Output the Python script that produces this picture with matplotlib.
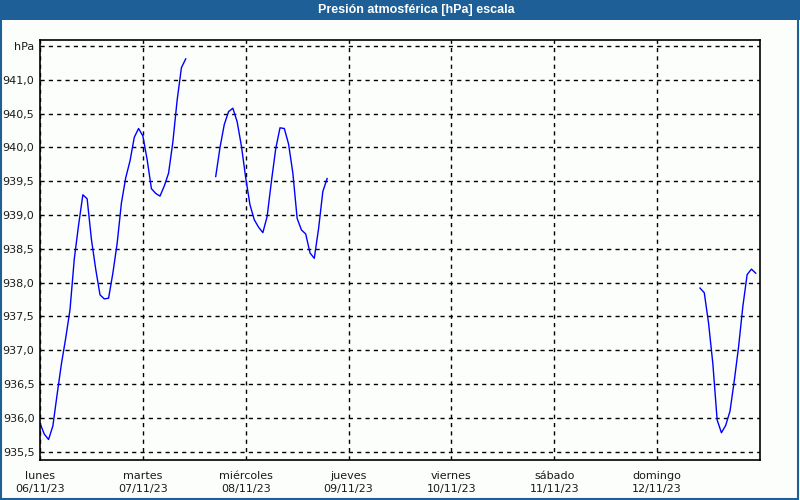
import matplotlib
matplotlib.use("Agg")
import matplotlib.pyplot as plt
from matplotlib.patches import Rectangle
import numpy as np

title = "Presión atmosférica [hPa] escala"
day_names = ["lunes", "martes", "miércoles", "jueves", "viernes", "sábado", "domingo"]
day_dates = ["06/11/23", "07/11/23", "08/11/23", "09/11/23", "10/11/23", "11/11/23", "12/11/23"]

# hourly readings (hours since lunes 00:00)
seg1_start = 0
seg1 = [935.92, 935.76, 935.68, 935.88, 936.35, 936.80, 937.18, 937.60, 938.35, 938.85,
        939.30, 939.24, 938.64, 938.20, 937.82, 937.76, 937.77, 938.14, 938.58, 939.18,
        939.55, 939.80, 940.15, 940.28, 940.17, 939.82, 939.39, 939.32, 939.28, 939.43,
        939.62, 940.08, 940.70, 941.18, 941.31]
seg2_start = 41
seg2 = [939.57, 940.00, 940.34, 940.53, 940.58, 940.38, 940.02, 939.55, 939.15, 938.93,
        938.82, 938.74, 938.98, 939.50, 939.98, 940.29, 940.28, 940.05, 939.62, 938.95,
        938.78, 938.72, 938.44, 938.36, 938.80, 939.35, 939.54]
seg3_start = 154
seg3 = [937.92, 937.85, 937.40, 936.80, 935.97, 935.78, 935.89, 936.10, 936.55, 937.05,
        937.65, 938.12, 938.20, 938.14]

y_ticks = [935.5, 936.0, 936.5, 937.0, 937.5, 938.0, 938.5, 939.0, 939.5, 940.0, 940.5, 941.0, 941.5]

fig = plt.figure(figsize=(8, 5), dpi=100)
fig.patch.set_facecolor("#fcfefc")
plt.rcParams['font.family'] = ['DejaVu Sans']

ax = fig.add_axes([0.05, 0.08, 0.90, 0.84])
ax.set_facecolor("#fcfefc")

for start, seg in [(seg1_start, seg1), (seg2_start, seg2), (seg3_start, seg3)]:
    hrs = np.arange(start, start + len(seg))
    ax.plot(hrs, seg, color="#0000ff", lw=1.0)

ax.set_xlim(0, 168)
ax.set_ylim(935.377, 941.589)

ax.set_yticks(y_ticks)
ax.set_yticklabels([f"{v:.1f}".replace(".", ",") for v in y_ticks[:-1]] + ["hPa"])
ax.set_xticks(np.arange(0, 168, 24))
ax.set_xticklabels([f"{n}\n{d}" for n, d in zip(day_names, day_dates)], linespacing=1.35)
ax.tick_params(axis="both", length=0, labelsize=8, colors="#1a1a1a")
ax.tick_params(axis="x", pad=8)
ax.tick_params(axis="y", pad=4)

ax.grid(True, color="black", linestyle=(0, (3, 3)), linewidth=1.0)
for s in ax.spines.values():
    s.set_color("black")
    s.set_linewidth(1.2)

# title bar
fig.patches.append(Rectangle((0, 0.96), 1, 0.04, transform=fig.transFigure,
                             facecolor="#1d5f96", edgecolor="none", zorder=0))
fig.patches.append(Rectangle((0.001, 0.002), 0.997, 0.996, transform=fig.transFigure,
                             facecolor="none", edgecolor="#1d5f96", lw=1.5, zorder=1))
fig.text(0.52, 0.979, title, color="white", fontsize=9, fontweight="bold",
         family=["Liberation Sans", "DejaVu Sans"], ha="center", va="center")

fig.savefig("out.png", dpi=100, facecolor=fig.get_facecolor())
